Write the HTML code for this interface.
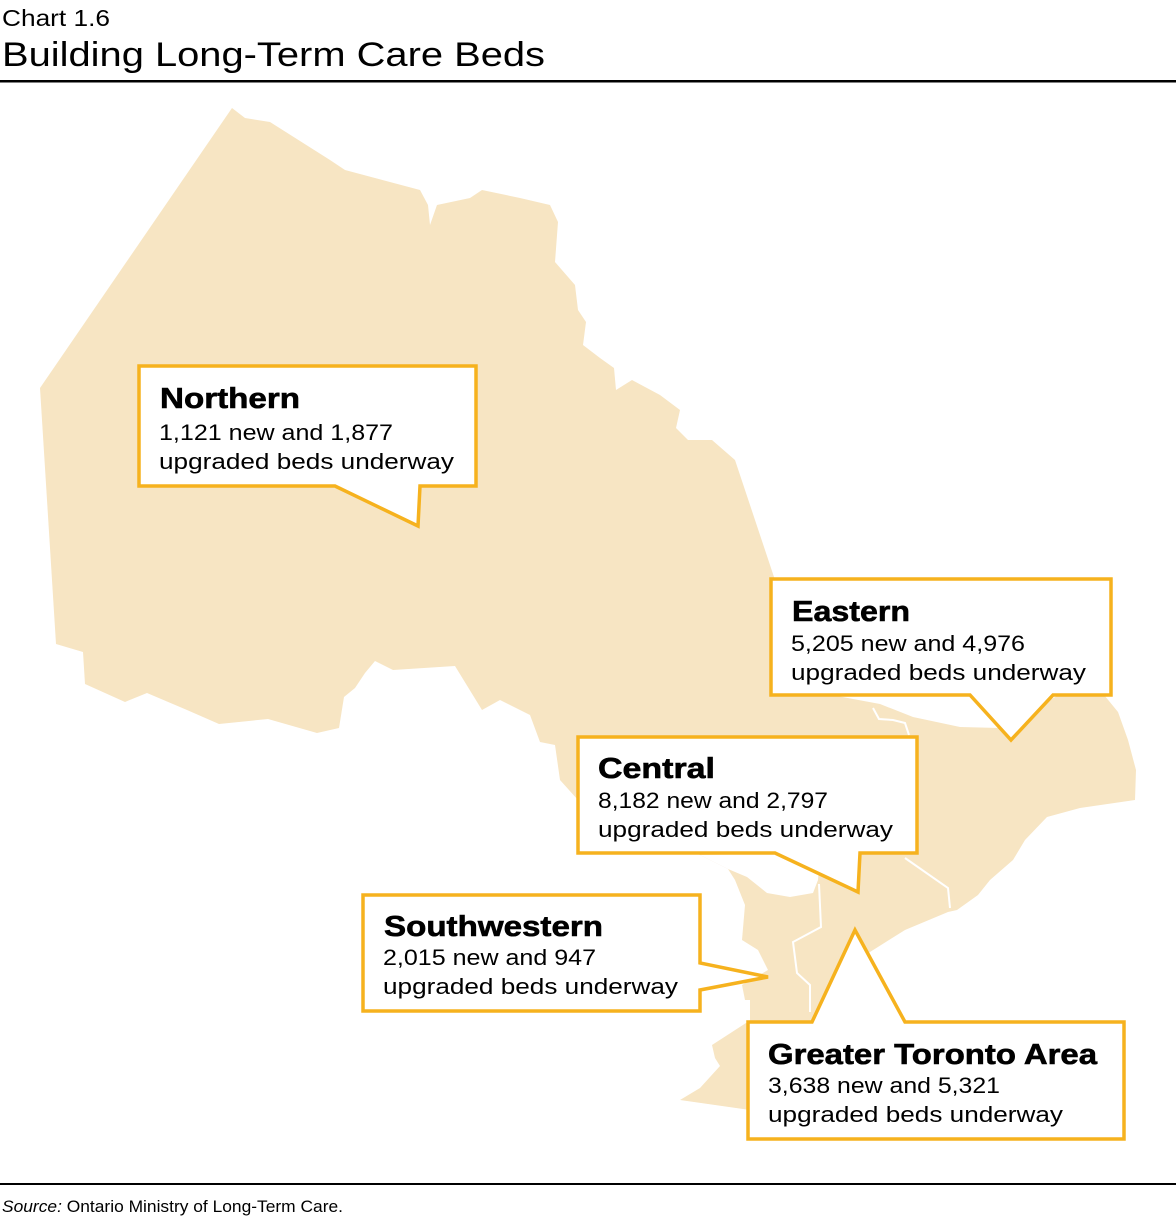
<!DOCTYPE html>
<html><head><meta charset="utf-8"><style>
html,body{margin:0;padding:0;background:#fff;}
svg{display:block;}
text{font-family:"Liberation Sans",sans-serif;fill:#000;}
.h{font-weight:bold;font-size:29px;stroke:#000;stroke-width:0.6px;}
.t{font-size:22px;}
</style></head><body>
<svg width="1176" height="1224" viewBox="0 0 1176 1224" xmlns="http://www.w3.org/2000/svg">
<text x="2" y="26" font-size="23" textLength="108" lengthAdjust="spacingAndGlyphs">Chart 1.6</text>
<text x="2" y="66" font-size="34" textLength="543" lengthAdjust="spacingAndGlyphs">Building Long-Term Care Beds</text>
<rect x="0" y="80" width="1176" height="2.5" fill="#000"/>

<path fill="#F7E5C3" d="M40,388 L232,108 L245,118 L270,122 L330,160 L345,170 L420,190 L428,205 L430,225 L437,205 L470,198 L482,190 L520,198 L550,205 L558,222 L555,262 L575,285 L578,310 L586,322 L583,345 L600,358 L614,368 L616,390 L632,380 L660,395 L680,410 L676,428 L688,440 L712,440 L735,460 L775,580 L900,600 L1100,690 L1118,712 L1128,740 L1136,770 L1135,800 L1080,808 L1047,817 L1025,840 L1013,860 L990,880 L978,895 L957,910 L948,912 L905,930 L870,952 L845,972 L830,995 L812,1025 L800,1040 L746,1023 L712,1045 L715,1058 L720,1066 L700,1088 L680,1100 L750,1110 L750,1000 L745,1000 L742,985 L768,970 L758,950 L742,940 L745,905 L735,880 L728,869 L700,855 L578,800 L560,780 L555,745 L540,742 L530,715 L500,700 L482,710 L455,666 L393,670 L375,661 L365,673 L355,688 L344,697 L339,728 L317,733 L268,719 L219,724 L187,710 L147,693 L125,702 L85,684 L83,652 L56,644 Z"/>
<path fill="#fff" d="M837,696 L880,704 L913,717 L960,727 L1000,728 L1057,696 Z"/>
<path fill="#fff" d="M728,869 L747,877 L767,893 L790,897 L813,893 L818,880 L820,856 L760,854 L700,855 Z"/>
<g fill="none" stroke="#fff" stroke-width="2">
<path d="M873,708 L879,719 L893,720 L905,723 L909,735"/>
<path d="M905,858 L948,888 L950,908"/>
<path d="M819,884 L821,927 L793,942 L797,973 L810,985 L810,1012"/>
</g>

<g fill="#fff" stroke="#F6B21E" stroke-width="3.5" stroke-linejoin="miter">
<path d="M139,366 H476 V486 H420 L418,526 L335,486 H139 Z"/>
<path d="M771,579 H1111 V695 H1053 L1011,740 L970,695 H771 Z"/>
<path d="M578,737 H917 V853 H860 L858,892 L775,853 H578 Z"/>
<path d="M363,895 H700 V963 L768,977 L700,990 V1011 H363 Z"/>
<path d="M748,1022 H812 L855,930 L905,1022 H1124 V1139 H748 Z"/>
</g>

<text class="h" x="160" y="408" textLength="140" lengthAdjust="spacingAndGlyphs">Northern</text>
<text class="t" x="159" y="440" textLength="234" lengthAdjust="spacingAndGlyphs">1,121 new and 1,877</text>
<text class="t" x="159" y="469" textLength="295" lengthAdjust="spacingAndGlyphs">upgraded beds underway</text>

<text class="h" x="792" y="621" textLength="118" lengthAdjust="spacingAndGlyphs">Eastern</text>
<text class="t" x="791" y="651" textLength="234" lengthAdjust="spacingAndGlyphs">5,205 new and 4,976</text>
<text class="t" x="791" y="680" textLength="295" lengthAdjust="spacingAndGlyphs">upgraded beds underway</text>

<text class="h" x="598" y="778" textLength="117" lengthAdjust="spacingAndGlyphs">Central</text>
<text class="t" x="598" y="808" textLength="230" lengthAdjust="spacingAndGlyphs">8,182 new and 2,797</text>
<text class="t" x="598" y="837" textLength="295" lengthAdjust="spacingAndGlyphs">upgraded beds underway</text>

<text class="h" x="384" y="936" textLength="219" lengthAdjust="spacingAndGlyphs">Southwestern</text>
<text class="t" x="383" y="965" textLength="213" lengthAdjust="spacingAndGlyphs">2,015 new and 947</text>
<text class="t" x="383" y="994" textLength="295" lengthAdjust="spacingAndGlyphs">upgraded beds underway</text>

<text class="h" x="768" y="1064" textLength="329" lengthAdjust="spacingAndGlyphs">Greater Toronto Area</text>
<text class="t" x="768" y="1093" textLength="232" lengthAdjust="spacingAndGlyphs">3,638 new and 5,321</text>
<text class="t" x="768" y="1122" textLength="295" lengthAdjust="spacingAndGlyphs">upgraded beds underway</text>

<rect x="0" y="1183" width="1176" height="2" fill="#000"/>
<text x="2" y="1212" font-size="17" textLength="341" lengthAdjust="spacingAndGlyphs"><tspan font-style="italic">Source:</tspan> Ontario Ministry of Long-Term Care.</text>
</svg>
</body></html>
